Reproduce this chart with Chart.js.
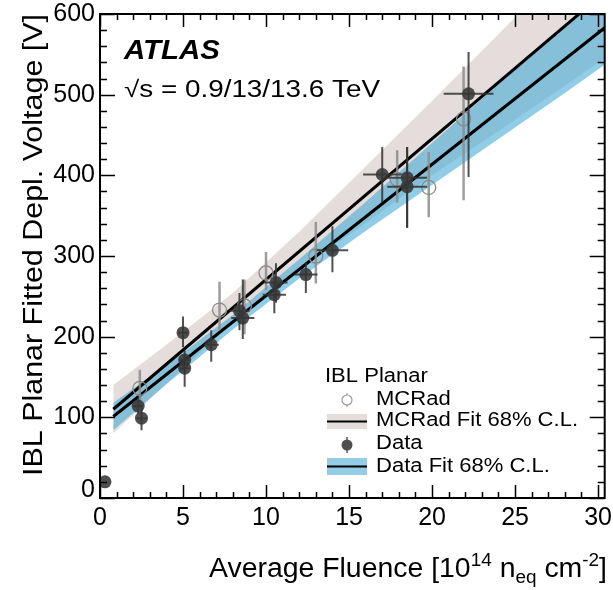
<!DOCTYPE html>
<html>
<head>
<meta charset="utf-8">
<script src="https://cdn.jsdelivr.net/npm/chart.js@4.4.1/dist/chart.umd.min.js"></script>
<style>
  body { margin: 0; background: #fff; }
  canvas { display: block; }
</style>
</head>
<body>
<canvas id="c" width="613" height="590"></canvas>
<script>
// data
var dataFluence = [0.3, 2.3, 2.5, 5.0, 5.1, 5.1, 6.7, 8.4, 8.6, 10.5, 10.6, 12.4, 14.0, 17.0, 18.5, 18.5, 22.2];
var dataVoltage = [20, 114, 99, 205, 171, 161, 190, 232, 223, 252, 267, 277, 307, 401, 397, 386, 501];
var dataErrUp   = [0, 10, 14, 20, 12, 18, 18, 22, 48, 25, 24, 15, 30, 34, 38, 49, 52];
var dataErrDown = [0, 10, 15, 18, 16, 23, 21, 24, 26, 23, 25, 23, 27, 34, 62, 51, 103];
var dataErrX    = [0, 0.3, 0.3, 0.3, 0.3, 0.3, 0.45, 0.6, 0.7, 0.7, 0.7, 0.7, 0.95, 1.15, 1.2, 1.2, 1.5];

var mcFluence = [2.4, 7.2, 8.7, 10.0, 13.0, 17.9, 19.8, 21.9];
var mcVoltage = [136, 233, 238, 279, 300, 395, 385, 470];
var mcErrUp   = [23, 35, 33, 26, 42, 36, 44, 65];
var mcErrDown = [17, 25, 35, 21, 34, 29, 37, 101];

// fit lines and 68% C.L. bands
var fitX      = [0.8, 30.4];
var mcFitV    = [110, 627];
var dataFitV  = [101, 583];
var bandX      = [0.8, 4, 8, 12, 16, 20, 24, 28, 30.4];
var mcBandHi   = [140, 190, 254, 330, 411, 492, 575, 659, 709];
var mcBandLo   = [80, 142, 218, 282, 341, 400, 455, 511, 545];
var dataBandHi = [118, 165, 227, 296, 367, 440, 513, 586, 630];
var dataBandLo = [84, 141, 209, 272, 331, 388, 445, 502, 537];

var xTicks = [0, 5, 10, 15, 20, 25, 30];
var yTicks = [0, 100, 200, 300, 400, 500, 600];
var xMinorStep = 1, yMinorStep = 20;

var FONT = '"Liberation Sans", Arial, Helvetica, sans-serif';
var greyBand = 'rgb(228,221,219)';
var blueBand = 'rgba(72,172,213,0.6)';

function pts(xs, ys) {
  return xs.map(function(x, i) { return {x: x, y: ys[i]}; });
}

// error bars, drawn just before the markers of their dataset
function drawErrors(chart, ds) {
  var c = chart.ctx, xs = chart.scales.x, ys = chart.scales.y, a = chart.chartArea;
  c.save();
  c.beginPath();
  c.rect(a.left, a.top, a.right - a.left, a.bottom - a.top);
  c.clip();
  c.strokeStyle = ds.errColor;
  c.lineWidth = ds.errWidth;
  ds.data.forEach(function(p, i) {
    var px = xs.getPixelForValue(p.x), py = ys.getPixelForValue(p.y);
    if (ds.errUp[i] || ds.errDown[i]) {
      c.beginPath();
      c.moveTo(px, ys.getPixelForValue(p.y + ds.errUp[i]));
      c.lineTo(px, ys.getPixelForValue(p.y - ds.errDown[i]));
      c.stroke();
    }
    if (ds.errX && ds.errX[i]) {
      c.beginPath();
      c.moveTo(xs.getPixelForValue(p.x - ds.errX[i]), py);
      c.lineTo(xs.getPixelForValue(p.x + ds.errX[i]), py);
      c.stroke();
    }
  });
  c.restore();
}

// text squeezed/stretched horizontally to a given width
function fitText(c, txt, x, y, size, width, style) {
  c.font = (style || '') + size + 'px ' + FONT;
  var sx = width ? width / c.measureText(txt).width : 1;
  c.save();
  c.translate(x, y);
  c.scale(sx, 1);
  c.fillText(txt, 0, 0);
  c.restore();
  return sx;
}

function drawRich(c, parts, x0, y, width) {
  var total = 0;
  parts.forEach(function(p) {
    c.font = p.s + 'px ' + FONT;
    p.w = c.measureText(p.t).width;
    total += p.w;
  });
  c.save();
  c.translate(x0, y);
  c.scale(width / total, 1);
  var x = 0;
  parts.forEach(function(p) {
    c.font = p.s + 'px ' + FONT;
    c.fillText(p.t, x, p.dy || 0);
    x += p.w;
  });
  c.restore();
}

var overlay = {
  id: 'overlay',
  beforeDatasetDraw: function(chart, args) {
    var ds = chart.data.datasets[args.index];
    if (ds.errUp) drawErrors(chart, ds);
  },
  afterDraw: function(chart) {
    var c = chart.ctx, a = chart.chartArea, xs = chart.scales.x, ys = chart.scales.y;
    c.save();
    // frame
    c.strokeStyle = '#000';
    c.lineWidth = 2;
    c.strokeRect(a.left, a.top, a.right - a.left, a.bottom - a.top);
    // ticks on all four sides, pointing inwards
    c.lineWidth = 1.5;
    c.beginPath();
    for (var v = 0; v <= xs.max + 1e-6; v += xMinorStep) {
      var px = Math.round(xs.getPixelForValue(v)) + 0.5;
      var len = xTicks.indexOf(v) >= 0 ? 13 : 6;
      c.moveTo(px, a.bottom); c.lineTo(px, a.bottom - len);
      c.moveTo(px, a.top); c.lineTo(px, a.top + len);
    }
    for (var w = 0; w <= ys.max + 1e-6; w += yMinorStep) {
      var py = Math.round(ys.getPixelForValue(w)) + 0.5;
      var l2 = yTicks.indexOf(w) >= 0 ? 15 : 7;
      c.moveTo(a.left, py); c.lineTo(a.left + l2, py);
      c.moveTo(a.right, py); c.lineTo(a.right - l2, py);
    }
    c.stroke();

    c.fillStyle = '#000';
    // tick labels
    c.font = '25px ' + FONT;
    c.textBaseline = 'middle';
    c.textAlign = 'right';
    yTicks.forEach(function(t) {
      c.fillText(String(t), a.left - 5, ys.getPixelForValue(t) - (t === 0 ? 8 : 0));
    });
    c.textAlign = 'center';
    xTicks.forEach(function(t) {
      c.fillText(String(t), xs.getPixelForValue(t), a.bottom + 20);
    });

    c.textBaseline = 'alphabetic';
    c.textAlign = 'left';
    // ATLAS label
    fitText(c, 'ATLAS', 124, 59, 28, 96, 'italic bold ');
    fitText(c, '\u221As = 0.9/13/13.6 TeV', 124, 97, 23, 256);

    // axis titles
    drawRich(c, [
      {t: 'Average Fluence [10', s: 27},
      {t: '14', s: 18, dy: -11},
      {t: ' n', s: 27},
      {t: 'eq', s: 18, dy: 6},
      {t: ' cm', s: 27},
      {t: '-2', s: 18, dy: -11},
      {t: ']', s: 27}
    ], 209, 577, 398);
    c.save();
    c.translate(42, 476);
    c.rotate(-Math.PI / 2);
    fitText(c, 'IBL Planar Fitted Depl. Voltage [V]', 0, 0, 27, 462);
    c.restore();

    // legend
    c.font = '20px ' + FONT;
    var lsx = 202 / c.measureText('MCRad Fit 68% C.L.').width;
    function legText(t, x, y) {
      c.save(); c.translate(x, y); c.scale(lsx, 1); c.fillText(t, 0, 0); c.restore();
    }
    legText('IBL Planar', 325, 382);
    legText('MCRad', 376, 405);
    legText('MCRad Fit 68% C.L.', 376, 426);
    legText('Data', 376, 449);
    legText('Data Fit 68% C.L.', 376, 472);

    c.strokeStyle = '#9a9a9a';
    c.lineWidth = 1.2;
    c.beginPath(); c.moveTo(347, 393); c.lineTo(347, 407); c.stroke();
    c.fillStyle = '#fff';
    c.beginPath(); c.arc(347, 400, 5, 0, 2 * Math.PI); c.fill(); c.stroke();

    c.fillStyle = greyBand;
    c.fillRect(327, 414, 40, 15);
    c.fillStyle = 'rgb(150,205,230)';
    c.fillRect(327, 458, 40, 17);
    c.strokeStyle = '#000';
    c.lineWidth = 2;
    c.beginPath();
    c.moveTo(327, 421.5); c.lineTo(367, 421.5);
    c.moveTo(327, 466.5); c.lineTo(367, 466.5);
    c.stroke();

    c.strokeStyle = '#555';
    c.lineWidth = 1.5;
    c.beginPath(); c.moveTo(347, 437); c.lineTo(347, 453); c.stroke();
    c.fillStyle = 'rgb(80,80,80)';
    c.beginPath(); c.arc(347, 445, 5.5, 0, 2 * Math.PI); c.fill();
    c.restore();
  }
};

new Chart(document.getElementById('c'), {
  type: 'scatter',
  data: {
    datasets: [
      {type: 'line', data: pts(bandX, mcBandHi), fill: '+1', backgroundColor: greyBand,
       borderWidth: 0, pointRadius: 0, tension: 0, order: 10, clip: 0},
      {type: 'line', data: pts(bandX, mcBandLo), fill: false, borderWidth: 0, pointRadius: 0, order: 10, clip: 0},
      {type: 'line', data: pts(bandX, dataBandHi), fill: '+1', backgroundColor: blueBand,
       borderWidth: 0, pointRadius: 0, tension: 0, order: 8, clip: 0},
      {type: 'line', data: pts(bandX, dataBandLo), fill: false, borderWidth: 0, pointRadius: 0, order: 8, clip: 0},
      {type: 'line', data: pts(fitX, mcFitV), fill: false, borderColor: '#000', borderWidth: 3,
       pointRadius: 0, order: 5, clip: 0},
      {type: 'line', data: pts(fitX, dataFitV), fill: false, borderColor: '#000', borderWidth: 3,
       pointRadius: 0, order: 5, clip: 0},
      {label: 'MCRad', data: pts(mcFluence, mcVoltage), pointRadius: 7, pointBorderWidth: 1.3,
       pointBorderColor: '#8a8a8a', pointBackgroundColor: 'rgba(255,255,255,0)', order: 2,
       errUp: mcErrUp, errDown: mcErrDown, errColor: 'rgba(140,140,140,0.85)', errWidth: 2.5},
      {label: 'Data', data: pts(dataFluence, dataVoltage), pointRadius: 6.5, pointBorderWidth: 0,
       pointBackgroundColor: 'rgba(55,55,55,0.88)', order: 1,
       errUp: dataErrUp, errDown: dataErrDown, errX: dataErrX, errColor: 'rgba(50,50,50,0.85)', errWidth: 2}
    ]
  },
  options: {
    responsive: false,
    animation: false,
    layout: {padding: {top: 14, right: 6, left: 0, bottom: 0}},
    plugins: {legend: {display: false}, tooltip: {enabled: false}},
    scales: {
      x: {
        type: 'linear', min: 0, max: 30.4,
        grid: {display: false, drawTicks: false},
        border: {display: false},
        ticks: {display: false},
        afterBuildTicks: function(s) { s.ticks = xTicks.map(function(v) { return {value: v}; }); },
        afterFit: function(s) { s.height = 92; s.paddingLeft = 0; s.paddingRight = 0; }
      },
      y: {
        type: 'linear', min: 0, max: 600,
        grid: {display: false, drawTicks: false},
        border: {display: false},
        ticks: {display: false},
        afterBuildTicks: function(s) { s.ticks = yTicks.map(function(v) { return {value: v}; }); },
        afterFit: function(s) { s.width = 100; s.paddingTop = 0; s.paddingBottom = 0; }
      }
    }
  },
  plugins: [overlay]
});
</script>
</body>
</html>
